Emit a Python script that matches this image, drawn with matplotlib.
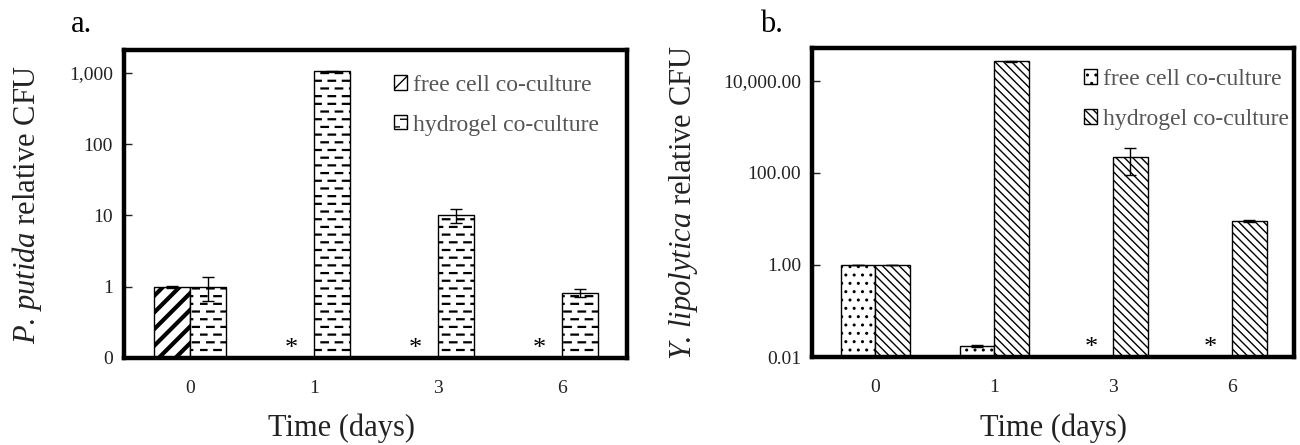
import warnings
import numpy as np
import matplotlib
matplotlib.use("Agg")
import matplotlib.pyplot as plt
from matplotlib import hatch as mhatch
from matplotlib.path import Path
from matplotlib.patches import Patch

warnings.filterwarnings("ignore")

plt.rcParams['font.family'] = ['Liberation Serif', 'DejaVu Serif']
plt.rcParams['mathtext.fontset'] = 'custom'
plt.rcParams['mathtext.rm'] = 'Liberation Serif'
plt.rcParams['mathtext.it'] = 'Liberation Serif:italic'

# data
days = ['0', '1', '3', '6']

# a. P. putida (nan = not detected, marked with *)
pp_free = [1.0, np.nan, np.nan, np.nan]
pp_free_err = [0.03, 0, 0, 0]
pp_gel = [1.0, 1050, 10.2, 0.82]
pp_gel_err = [0.36, 15, 2.3, 0.1]

# b. Y. lipolytica
yl_free = [1.0, 0.017, np.nan, np.nan]
yl_free_err = [0.01, 0.0008, 0, 0]
yl_gel = [1.0, 27000, 220, 9.1]
yl_gel_err = [0.01, 600, 130, 0.3]

labels = ['free cell co-culture', 'hydrogel co-culture']


# dashed-brick hatch for the hydrogel bars of panel a (char '=')
class DashHatch(mhatch.HatchPatternBase):
    nrows = 13
    ncols = 7
    dash = 0.065

    def __init__(self, hatch, density):
        self.n = hatch.count('=')
        self.num_vertices = self.n and self.nrows * self.ncols * 2

    def set_vertices_and_codes(self, vertices, codes):
        k = 0
        for i in range(self.nrows):
            y = (i + 0.5) / self.nrows
            shift = 0.5 / self.ncols if i % 2 else 0.0
            for j in range(self.ncols):
                x0 = j / self.ncols + shift
                vertices[k] = (x0, y)
                vertices[k + 1] = (x0 + self.dash, y)
                codes[k] = Path.MOVETO
                codes[k + 1] = Path.LINETO
                k += 2


mhatch._hatch_types.append(DashHatch)


def hatched_bars(ax, x, vals, width, bottom, hatch, hlw):
    vals = np.array(vals, dtype=float)
    with plt.rc_context({'hatch.linewidth': hlw}):
        bars = ax.bar(x, vals - bottom, width, bottom=bottom, color='white',
                      edgecolor='black', linewidth=1.0, hatch=hatch, zorder=2)
    return bars


def draw_panel(ax, free, free_err, gel, gel_err, ymin, ymax, ticks, ticklabels,
               h_free, h_gel, lw_free, lw_gel, ylabel):
    x = np.arange(len(days))
    w = 0.29
    hatched_bars(ax, x - w / 2, free, w, ymin, h_free, lw_free)
    hatched_bars(ax, x + w / 2, gel, w, ymin, h_gel, lw_gel)
    ax.errorbar(x - w / 2, free, yerr=free_err, fmt='none', ecolor='black',
                elinewidth=1, capsize=4, capthick=1, zorder=3)
    ax.errorbar(x + w / 2, gel, yerr=gel_err, fmt='none', ecolor='black',
                elinewidth=1, capsize=4, capthick=1, zorder=3)
    for xi, v in zip(x, free):
        if np.isnan(v):
            ax.text(xi - w / 2 - 0.04, 0.03, '*', transform=ax.get_xaxis_transform(),
                    ha='center', va='center', fontsize=19, color='black')
    ax.set_yscale('log')
    ax.set_ylim(ymin, ymax)
    ax.set_xlim(-0.53, 3.52)
    ax.set_yticks(ticks)
    ax.set_yticklabels(ticklabels)
    ax.minorticks_off()
    ax.set_xticks(x)
    ax.set_xticklabels(days)
    ax.tick_params(axis='y', direction='in', length=6, width=1, labelsize=14,
                   pad=8, colors='#222222')
    ax.tick_params(axis='x', length=0, labelsize=14, pad=16, colors='#222222')
    for s in ax.spines.values():
        s.set_linewidth(3.2)
        s.set_color('black')
    ax.set_ylabel(ylabel, fontsize=22, color='#222222')
    ax.set_xlabel('Time (days)', fontsize=22, color='#222222')
    handles = []
    for h, lw in [(h_free, lw_free), (h_gel, lw_gel)]:
        with plt.rc_context({'hatch.linewidth': lw}):
            handles.append(Patch(facecolor='white', edgecolor='black', linewidth=1,
                                 hatch=h))
    return handles


fig = plt.figure(figsize=(13, 4.45), dpi=100)
ax_a = fig.add_axes([124 / 1300, (445 - 358) / 445, 503 / 1300, 308 / 445])
ax_b = fig.add_axes([812 / 1300, (445 - 357) / 445, 482 / 1300, 309 / 445])

h_a = draw_panel(ax_a, pp_free, pp_free_err, pp_gel, pp_gel_err, 0.1, 2100,
                 [0.1, 1, 10, 100, 1000], ['0', '1', '10', '100', '1,000'],
                 '//', '=', 3.0, 1.6, r'$\it{P}$. $\it{putida}$ relative CFU')
h_b = draw_panel(ax_b, yl_free, yl_free_err, yl_gel, yl_gel_err, 0.01, 52000,
                 [0.01, 1, 100, 10000], ['0.01', '1.00', '100.00', '10,000.00'],
                 '..', '\\\\\\\\', 1.0, 1.0, r'$\it{Y}$. $\it{lipolytica}$ relative CFU')

ax_a.xaxis.set_label_coords((341 - 124) / 503, (358 - 428) / 308)
ax_a.xaxis.label.set_va('center')
ax_b.xaxis.set_label_coords((1053 - 812) / 482, (357 - 428) / 309)
ax_b.xaxis.label.set_va('center')
ax_a.yaxis.set_label_coords((27 - 124) / 503, 0.5)
ax_a.yaxis.label.set_va('center')
ax_b.yaxis.set_label_coords((683 - 812) / 482, 0.5)
ax_b.yaxis.label.set_va('center')

for ax, h, x0, y0 in [(ax_a, h_a, (385 - 124) / 503, 0.95),
                      (ax_b, h_b, (1075 - 812) / 482, 0.963)]:
    ax.legend(h, labels, loc='upper left', bbox_to_anchor=(x0, y0),
              frameon=False, fontsize=17, labelcolor='#555555',
              handlelength=0.55, handleheight=0.55, handletextpad=0.25,
              labelspacing=0.8, borderaxespad=0)

fig.text(82 / 1300, 1 - 25 / 445, 'a.', fontsize=22, ha='center', va='center')
fig.text(771 / 1300, 1 - 25 / 445, 'b.', fontsize=22, ha='center', va='center')

fig.savefig('out.png', dpi=100)
